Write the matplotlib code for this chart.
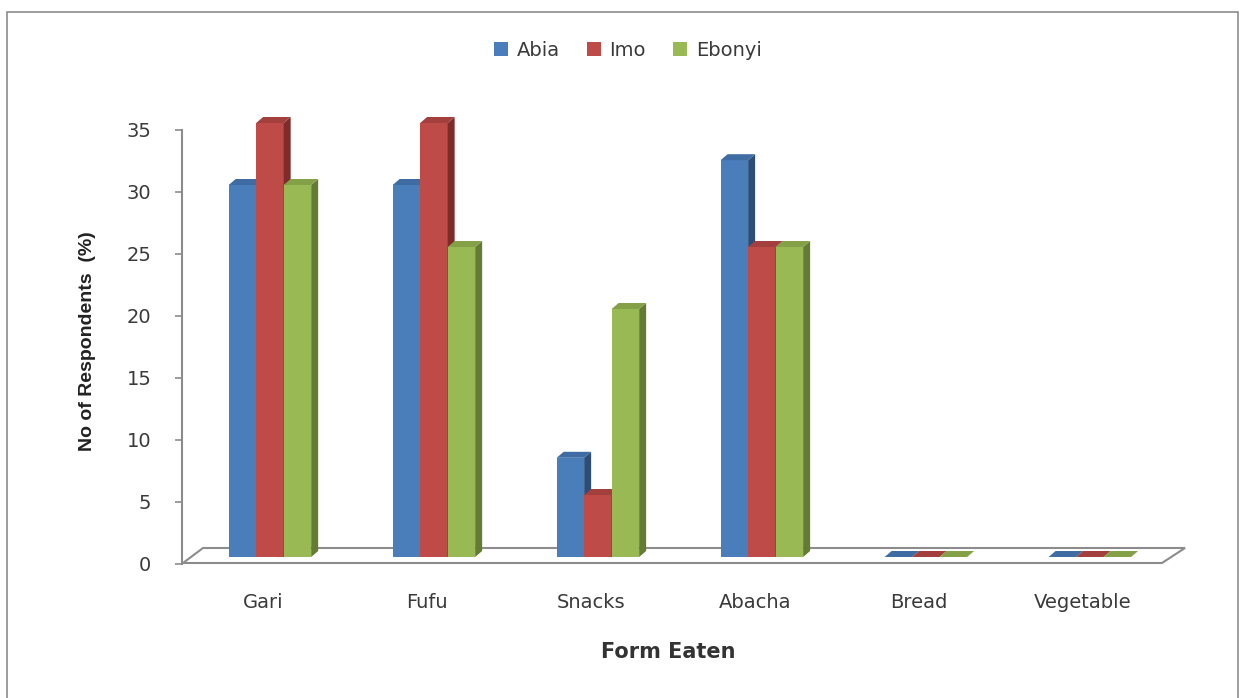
import matplotlib.pyplot as plt
from matplotlib.patches import Polygon, Rectangle, Patch
from matplotlib.transforms import ScaledTranslation

# forms in which the product is eaten, % of respondents per state
forms = ['Gari', 'Fufu', 'Snacks', 'Abacha', 'Bread', 'Vegetable']
states = ['Abia', 'Imo', 'Ebonyi']
abia = [30, 30, 8, 32, 0, 0]
imo = [35, 35, 5, 25, 0, 0]
ebonyi = [30, 25, 20, 25, 0, 0]
series = [abia, imo, ebonyi]

front_col = ['#4a7ebb', '#be4b48', '#98b954']
side_col = ['#2c4d75', '#7d2c2a', '#637b35']
top_col = ['#3f6ca3', '#a33f3c', '#84a147']
grey = '#8c8c8c'
text_col = '#3a3a3a'

W, H = 1241, 698
fig = plt.figure(figsize=(W / 100, H / 100), dpi=100)
fig.patch.set_facecolor('white')

# outer chart border
fig.add_artist(Rectangle((7 / W, -0.01), (1238 - 7) / W, 1.01 - 12 / H,
                         transform=fig.transFigure, fill=False,
                         ec=grey, lw=1.2))

# y axis drawn on its own axes, set a little lower (front plane of the 3d box)
ax2 = fig.add_axes([182 / W, (141 - 6.5) / H, 979 / W, 434 / H])
ax2.set_ylim(0, 35)
ax2.set_xlim(0, 1)
ax2.patch.set_visible(False)
for s in ['top', 'right', 'bottom']:
    ax2.spines[s].set_visible(False)
ax2.spines['left'].set_color(grey)
ax2.spines['left'].set_linewidth(1.5)
ax2.set_xticks([])
ax2.set_yticks(range(0, 36, 5))
ax2.tick_params(axis='y', direction='out', length=5, width=1.2, color=grey,
                labelsize=14, labelcolor=text_col, pad=17)

# main axes holding the columns
ax = fig.add_axes([183 / W, 141 / H, 979 / W, 434 / H])
x_lo, x_hi = -0.53, 5.44
ax.set_xlim(x_lo, x_hi)
ax.set_ylim(0, 35)
ax.patch.set_visible(False)
for s in ax.spines.values():
    s.set_visible(False)
ax.set_yticks([])

px_x = 979 / (x_hi - x_lo)
px_y = 434 / 35.0
dx = 7 / px_x
dy = 6 / px_y
w = 27.5 / px_x

# floor of the 3d box
floor = Polygon([(x_lo, -6 / px_y), (x_hi, -6 / px_y),
                 (x_hi + 23 / px_x, 9 / px_y), (x_lo + 20 / px_x, 9 / px_y)],
                closed=True, fc='white', ec=grey, lw=1.5, clip_on=False, zorder=1)
ax.add_patch(floor)

z = 2
for i in range(len(forms)):
    for j in range(len(states)):
        v = series[j][i]
        x0 = i + (j - 1.5) * w
        x1 = x0 + w
        ax.bar(x0, v, w, align='edge', color=front_col[j], lw=0, zorder=z)
        ax.add_patch(Polygon([(x1, 0), (x1 + dx, dy), (x1 + dx, v + dy), (x1, v)],
                             closed=True, fc=side_col[j], lw=0, zorder=z + 1,
                             clip_on=False))
        ax.add_patch(Polygon([(x0, v), (x1, v), (x1 + dx, v + dy), (x0 + dx, v + dy)],
                             closed=True, fc=top_col[j], lw=0, zorder=z + 2,
                             clip_on=False))
        z += 3

ax.set_xticks(range(len(forms)))
ax.set_xticklabels(forms)
ax.tick_params(axis='x', length=0, pad=26, labelsize=14, labelcolor=text_col)
shift = ScaledTranslation(-7 / 100, 0, fig.dpi_scale_trans)
for lbl in ax.get_xticklabels():
    lbl.set_transform(lbl.get_transform() + shift)

fig.text(668 / W, 1 - 652 / H, 'Form Eaten', ha='center', va='center',
         fontsize=15, fontweight='bold', color='#333333')
fig.text(88 / W, 1 - 341 / H, 'No of Respondents  (%)', rotation=90,
         ha='center', va='center', fontsize=14, fontweight='bold',
         family='Liberation Sans', color='#222222')

handles = [Patch(fc=c, lw=0) for c in front_col]
fig.legend(handles, states, loc='center', bbox_to_anchor=(628 / W, 1 - 50 / H),
           ncol=3, frameon=False, fontsize=14, handlelength=0.7,
           handleheight=0.7, handletextpad=0.45, columnspacing=1.4,
           labelcolor=text_col)

fig.savefig('out.png', dpi=100, facecolor='white')
